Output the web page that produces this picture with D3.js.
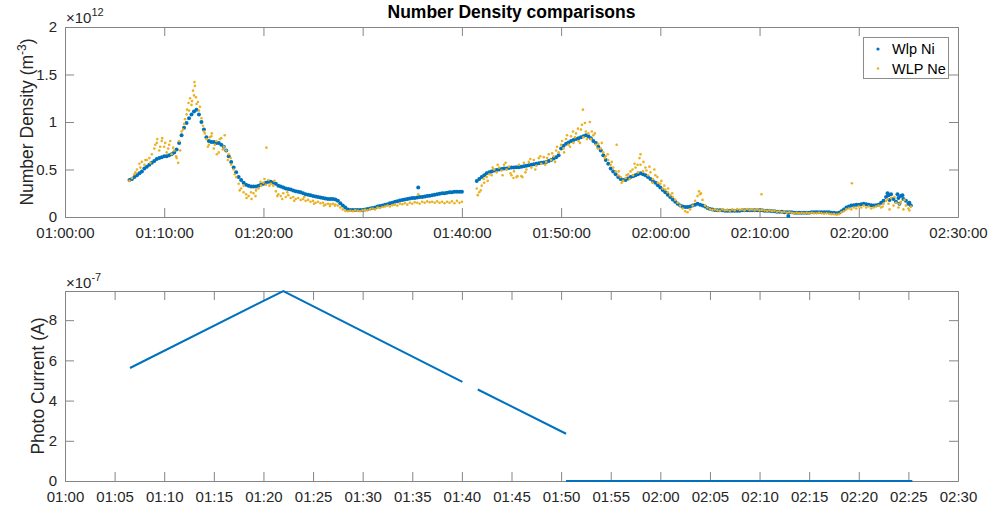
<!DOCTYPE html>
<html>
<head>
<meta charset="utf-8">
<script src="https://cdn.jsdelivr.net/npm/d3@7"></script>
<style>
  body { margin: 0; background: #fff; }
  svg { display: block; font-family: "Liberation Sans", Arial, Helvetica, sans-serif; }
</style>
</head>
<body>
<svg id="chart" width="994" height="511"></svg>
<script>
// ---------------------------------------------------------------------------
// Data
// Densities are in units of 1e10 m^-3, one sample every 15 s.
// Each row below is one minute of samples.
// ---------------------------------------------------------------------------
const sampleStepSec = 15;
const seg1Start = "01:06:30";
const seg2Start = "01:41:30";

const niSeg1 = [
  39, 40,
  42, 44, 46, 48,
  51, 53, 55, 57,
  59, 61, 62, 63,
  64, 64, 65, 66,
  68, 71, 78, 86,
  94, 99, 104, 108,
  111, 113, 108, 100,
  92, 84, 80, 79,
  79, 78, 78, 76,
  74, 70, 64, 58,
  52, 47, 42, 39,
  36, 34, 33, 32,
  32, 32, 33, 34,
  35, 36, 37, 37,
  36, 35, 33, 32,
  31, 30, 29.5, 29,
  28, 27, 26.5, 26,
  25, 24, 23.5, 23,
  22, 21.5, 21, 20.5,
  20, 19.5, 19, 19,
  19, 18.5, 17, 14.5,
  12, 10, 8, 7.5,
  7.5, 7.5, 7.5, 7.5,
  7.5, 8, 8.5, 9,
  9.5, 10, 11, 11.5,
  12, 13, 13.5, 14.5,
  15, 16, 16.5, 17.5,
  18, 18.5, 19, 19.5,
  20, 20, 20.5, 21,
  21, 21.5, 22, 22.5,
  23, 23.5, 24, 24.5,
  25, 25, 25.5, 26,
  26, 26.5, 26.5, 26.5,
  26.5
];

const neSeg1 = [
  38, 41,
  45, 50, 56, 58,
  55, 60, 62, 66,
  72, 78, 70, 80,
  74, 68, 76, 66,
  70, 62, 80, 90,
  98, 108, 112, 118,
  128, 119, 112, 104,
  90, 82, 76, 85,
  72, 80, 68, 83,
  74, 70, 66, 55,
  50, 42, 35, 30,
  26, 24, 22, 26,
  25, 28, 30, 33,
  36, 34, 39, 35,
  33, 27, 24, 22,
  25, 21, 23, 20,
  21, 19, 20, 18,
  19, 17, 18, 16,
  17, 15, 16, 14.5,
  15, 13, 14, 13.5,
  14, 13, 12, 10,
  8, 6.5, 6, 6.5,
  6, 7, 6.5, 6,
  7, 7.5, 7, 8.5,
  9, 8, 10, 9.5,
  10.5, 11, 12, 11,
  12.5, 13, 12, 14,
  13.5, 14.5, 13, 15,
  14, 15.5, 15, 14,
  16, 15, 16.5, 15.5,
  16, 15, 16.5, 15,
  16, 14.5, 16, 15,
  16.5, 14.5, 17, 15,
  16
];

const niSeg2 = [
  38, 40,
  42, 44, 46, 47,
  48, 49, 49.5, 50,
  50.5, 51, 51, 51.5,
  52, 52, 52.5, 52.5,
  53, 53.5, 54, 54.5,
  55, 55.5, 56, 56.5,
  57, 57.5, 58, 59,
  60, 61.5, 63, 65,
  72, 75, 77, 78.5,
  80, 81, 82, 83,
  84, 85, 86, 85,
  83, 80, 78, 74,
  70, 65, 60, 56,
  51, 48, 45, 42,
  40, 39, 39, 40.5,
  42, 43, 44, 45,
  46, 45, 44, 42,
  40, 38, 36, 33.5,
  31, 28.5, 26, 23.5,
  21, 18.5, 16, 14,
  12, 11, 10.5, 10.5,
  11, 12, 13, 14,
  13, 12, 11, 9.5,
  8.5, 8, 7.5, 7,
  7, 7, 6.5, 6.5,
  6.5, 6.5, 6.5, 6.5,
  6.5, 7, 7, 7,
  7, 7, 7, 7,
  7, 7, 6.5, 6.5,
  6.5, 6, 6, 5.5,
  5.5, 5.5, 5, 5,
  5, 5, 4.5, 4.5,
  4.5, 4.5, 4.5, 4.5,
  4.5, 5, 5, 5,
  5, 5, 5, 5,
  5, 4.5, 4.5, 4,
  4.5, 6, 8, 10,
  11, 12, 12.5, 13,
  13, 13.5, 14, 13.5,
  13, 12.5, 12, 12.5,
  13, 15, 17, 21,
  23, 24, 19, 16,
  20, 22, 19, 17,
  14, 12
];

const neSeg2 = [
  30, 26,
  33, 36, 42, 45,
  44, 50, 47, 52,
  49, 55, 50, 53,
  44, 48, 42, 55,
  43, 57, 50, 58,
  52, 60, 54, 62,
  56, 63, 58, 66,
  60, 64, 70, 68,
  76, 72, 82, 76,
  85, 78, 88, 80,
  92, 84, 90, 88,
  82, 86, 76, 77,
  72, 68, 64, 60,
  55, 52, 48, 44,
  42, 38, 41, 45,
  48, 44, 52, 47,
  55, 48, 52, 44,
  47, 40, 44, 36,
  35, 30, 29, 26,
  23, 21, 18, 15,
  12, 9, 6, 5,
  8, 12, 17, 22,
  24, 18, 12, 10,
  8, 7.5, 8, 7,
  6.5, 8, 7, 7.5,
  6.5, 8, 7, 8.5,
  7.5, 8, 7, 8.5,
  7.5, 8, 7, 8,
  7, 7.5, 7, 6.5,
  7, 6, 6.5, 5.5,
  6, 5, 5.5, 4.5,
  5, 4.5, 4, 4.5,
  4, 4.5, 4, 4.5,
  4, 4.5, 4, 4,
  4.5, 4, 3.5, 4,
  3.5, 3, 3, 2.5,
  3, 5, 6, 8,
  9, 8, 10, 9,
  11, 10, 12, 10,
  11, 9, 10, 11,
  12, 10, 14, 17,
  14, 20, 12, 15,
  10, 16, 8, 12,
  9, 11
];

// Off-grid readings: [minutes past 01:00, density in 1e10 m^-3]
const niExtra = [
  [35.6, 31], [72.9, 1], [82.9, 25], [83.1, 18], [83.9, 24], [84.4, 23], [84.1, 14], [85.1, 15]
];
const neExtra = [
  [7.1, 47], [7.6, 52], [8.1, 60], [8.6, 57], [9.1, 76], [9.3, 82], [9.6, 74], [9.8, 83],
  [10.1, 78], [10.4, 72], [10.6, 80], [10.9, 73], [11.2, 64], [11.4, 57], [11.6, 70], [11.9, 92],
  [12.1, 103], [12.3, 113], [12.45, 120], [12.6, 125], [12.8, 122], [12.9, 133], [13.05, 142],
  [13.1, 138], [13.2, 126], [13.4, 121], [13.6, 116], [13.9, 96], [14.1, 88], [14.4, 74],
  [14.6, 84], [14.8, 88], [15.1, 76], [15.3, 66], [15.6, 82], [15.9, 71], [16.1, 86], [16.4, 60],
  [16.7, 62], [17.1, 45], [17.6, 28], [18.0, 33], [18.3, 20], [18.8, 19], [19.2, 22], [19.7, 37],
  [20.1, 40], [20.3, 73], [20.6, 33], [21.1, 38], [21.4, 22], [21.9, 19], [22.4, 26], [23.1, 17],
  [24.1, 21], [25.1, 14], [26.1, 12], [26.7, 11.5], [27.2, 12], [35.6, 24],
  [41.6, 23], [41.9, 28], [42.2, 40], [42.6, 38], [43.1, 52], [43.6, 55], [44.1, 44], [44.4, 57],
  [44.9, 46], [45.2, 41], [45.6, 43], [46.1, 42], [46.4, 47], [46.9, 61], [47.4, 50], [47.9, 64],
  [48.4, 55], [48.6, 62], [49.1, 67], [49.4, 58], [49.6, 74], [50.1, 80], [50.3, 68], [50.6, 86],
  [50.9, 74], [51.2, 90], [51.4, 84], [51.7, 93], [51.9, 78], [52.1, 97], [52.2, 113], [52.4, 99],
  [52.6, 82], [52.9, 100], [53.1, 90], [53.4, 88], [53.7, 72], [54.1, 78], [54.4, 62], [54.7, 66],
  [55.1, 58], [55.6, 76], [55.8, 48], [56.1, 36], [56.6, 44], [56.9, 40], [57.2, 50], [57.4, 56],
  [57.7, 55], [57.9, 62], [58.0, 66], [58.3, 58], [58.6, 49], [58.9, 53], [59.2, 36], [59.4, 50],
  [59.7, 42], [60.1, 38], [60.4, 33], [60.8, 30], [61.2, 25], [63.9, 27], [64.1, 25], [70.2, 24],
  [79.3, 35.5], [82.4, 11], [82.9, 19], [83.1, 8], [83.6, 21], [84.1, 14], [84.6, 18], [85.1, 7]
];

// Photo current (A): three runs separated by data gaps
const pcRunA_t = ["01:06:33", "01:22:00", "01:40:03"];
const pcRunA_v = [5.62e-7, 9.45e-7, 4.93e-7];
const pcRunB_t = ["01:41:36", "01:50:30"];
const pcRunB_v = [4.55e-7, 2.35e-7];
const pcRunC_t = ["01:50:30", "02:25:24"];
const pcRunC_v = [0, 0];

// Axis ticks
const topTicks = ["01:00:00","01:10:00","01:20:00","01:30:00","01:40:00","01:50:00",
                  "02:00:00","02:10:00","02:20:00","02:30:00"];
const bottomTicks = ["01:00","01:05","01:10","01:15","01:20","01:25","01:30","01:35","01:40",
                     "01:45","01:50","01:55","02:00","02:05","02:10","02:15","02:20","02:25","02:30"];
const densityTicks = [0, 0.5e12, 1e12, 1.5e12, 2e12];
const currentTicks = [0, 2e-7, 4e-7, 6e-7, 8e-7];

// ---------------------------------------------------------------------------
// Helpers
// ---------------------------------------------------------------------------
const parseHMS = d3.utcParse("%H:%M:%S");
const parseHM = d3.utcParse("%H:%M");
const hourZero = parseHMS("01:00:00");
const fromMinutes = m => new Date(+hourZero + m * 60000);

function sampled(startStr, values) {
  const t0 = +parseHMS(startStr);
  return values.map((v, i) => ({ t: new Date(t0 + i * sampleStepSec * 1000), v: v * 1e10 }));
}
const extras = arr => arr.map(([m, v]) => ({ t: fromMinutes(m), v: v * 1e10 }));

const niPoints = sampled(seg1Start, niSeg1).concat(sampled(seg2Start, niSeg2), extras(niExtra));
const nePoints = sampled(seg1Start, neSeg1).concat(sampled(seg2Start, neSeg2), extras(neExtra));

const BLUE = "#0072BD", GOLD = "#EDB120";
const AXIS = "#858585", TEXT = "#262626";

const svg = d3.select("#chart");

// Plot boxes
const L = 65, R = 958;
const top1 = 27, bot1 = 217;
const top2 = 291, bot2 = 481;

const x = d3.scaleUtc().domain([parseHMS("01:00:00"), parseHMS("02:30:00")]).range([L, R]);
const y1 = d3.scaleLinear().domain([0, 2e12]).range([bot1, top1]);
const pcMax = d3.max(pcRunA_v.concat(pcRunB_v, pcRunC_v));
const y2 = d3.scaleLinear().domain([0, pcMax]).range([bot2, top2]);

function styleAxis(g) {
  g.selectAll(".domain").attr("stroke", AXIS);
  g.selectAll(".tick line").attr("stroke", AXIS);
  g.selectAll(".tick text").attr("fill", TEXT).attr("font-size", 15)
    .attr("font-family", "Liberation Sans, Arial, sans-serif");
}

function drawFrame(xTickDates, xFmt, yScale, yTicks, yFmt, yTop, yBot, pad) {
  const g = svg.append("g");
  g.append("g").attr("transform", `translate(0,${yBot})`)
    .call(d3.axisBottom(x).tickValues(xTickDates).tickFormat(xFmt)
      .tickSizeInner(-9).tickSizeOuter(0).tickPadding(pad)).call(styleAxis);
  g.append("g").attr("transform", `translate(0,${yTop})`)
    .call(d3.axisTop(x).tickValues(xTickDates).tickFormat("")
      .tickSizeInner(-9).tickSizeOuter(0)).call(styleAxis);
  g.append("g").attr("transform", `translate(${L},0)`)
    .call(d3.axisLeft(yScale).tickValues(yTicks).tickFormat(yFmt)
      .tickSizeInner(-9).tickSizeOuter(0).tickPadding(8)).call(styleAxis);
  g.append("g").attr("transform", `translate(${R},0)`)
    .call(d3.axisRight(yScale).tickValues(yTicks).tickFormat("")
      .tickSizeInner(-9).tickSizeOuter(0)).call(styleAxis);
  g.selectAll("text").attr("fill", TEXT);
  return g;
}

// ---------------------------------------------------------------------------
// Upper panel: number densities
// ---------------------------------------------------------------------------
drawFrame(topTicks.map(parseHMS), d3.utcFormat("%H:%M:%S"),
  y1, densityTicks, v => d3.format("~g")(v / 1e12), top1, bot1, 10);

const dots = svg.append("g");
dots.append("g").selectAll("circle").data(niPoints).join("circle")
  .attr("cx", d => x(d.t)).attr("cy", d => y1(d.v)).attr("r", 2.0).attr("fill", BLUE);
dots.append("g").selectAll("circle").data(nePoints).join("circle")
  .attr("cx", d => x(d.t)).attr("cy", d => y1(d.v)).attr("r", 1.3).attr("fill", GOLD);

svg.append("text").attr("x", (L + R) / 2).attr("y", 18).attr("text-anchor", "middle")
  .attr("font-size", 17.5).attr("font-weight", "bold").attr("fill", "#000")
  .text("Number Density comparisons");

const exp1 = svg.append("text").attr("x", 66).attr("y", 22.5).attr("font-size", 15).attr("fill", TEXT);
exp1.append("tspan").text("\u00D710");
exp1.append("tspan").attr("font-size", 11).attr("dy", -7).text("12");

const yl1 = svg.append("text").attr("transform", `translate(33,${(top1 + bot1) / 2}) rotate(-90)`)
  .attr("text-anchor", "middle").attr("font-size", 17.5).attr("fill", TEXT);
yl1.append("tspan").text("Number Density (m");
yl1.append("tspan").attr("font-size", 12).attr("dy", -7).text("-3");
yl1.append("tspan").attr("dy", 7).text(")");

// Legend
const lg = svg.append("g");
lg.append("rect").attr("x", 863.5).attr("y", 37.5).attr("width", 85).attr("height", 41)
  .attr("fill", "#fff").attr("stroke", "#8c8c8c");
const legendItems = [{ label: "Wlp Ni", color: BLUE, r: 1.6 }, { label: "WLP Ne", color: GOLD, r: 1.3 }];
legendItems.forEach((it, i) => {
  lg.append("circle").attr("cx", 878).attr("cy", 49 + i * 19.5).attr("r", it.r).attr("fill", it.color);
  lg.append("text").attr("x", 892).attr("y", 54 + i * 19.5).attr("font-size", 14.5)
    .attr("fill", "#000").text(it.label);
});

// ---------------------------------------------------------------------------
// Lower panel: photo current
// ---------------------------------------------------------------------------
drawFrame(bottomTicks.map(parseHM), d3.utcFormat("%H:%M"),
  y2, currentTicks, v => d3.format("~g")(Math.round(v / 1e-7)), top2, bot2, 10.5);

const line = d3.line().x(d => x(d.t)).y(d => y2(d.v));
[[pcRunA_t, pcRunA_v], [pcRunB_t, pcRunB_v], [pcRunC_t, pcRunC_v]].forEach(([ts, vs]) => {
  const pts = ts.map((s, i) => ({ t: parseHMS(s), v: vs[i] }));
  svg.append("path").datum(pts).attr("d", line)
    .attr("fill", "none").attr("stroke", BLUE).attr("stroke-width", 2);
});

const exp2 = svg.append("text").attr("x", 66).attr("y", 288).attr("font-size", 15).attr("fill", TEXT);
exp2.append("tspan").text("\u00D710");
exp2.append("tspan").attr("font-size", 11).attr("dy", -7).text("-7");

svg.append("text").attr("transform", `translate(44,${(top2 + bot2) / 2}) rotate(-90)`)
  .attr("text-anchor", "middle").attr("font-size", 17.5).attr("fill", TEXT)
  .text("Photo Current (A)");
</script>
</body>
</html>
